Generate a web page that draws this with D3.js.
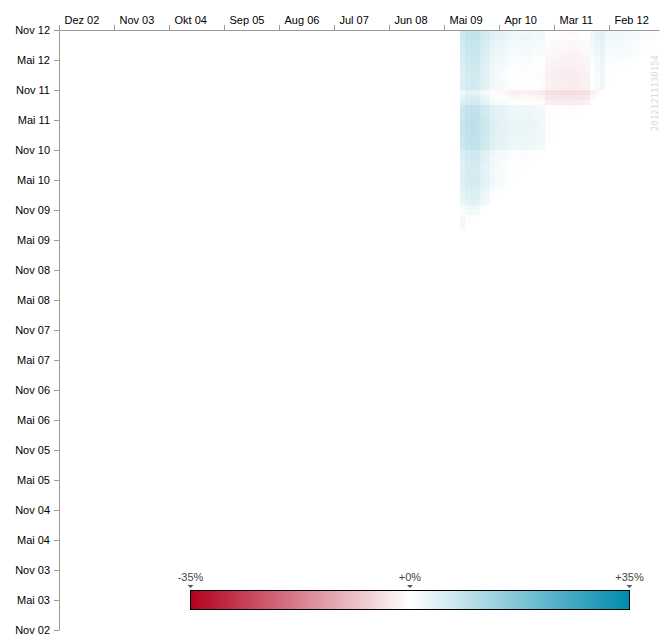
<!DOCTYPE html>
<html>
<head>
<meta charset="utf-8">
<script src="https://cdn.jsdelivr.net/npm/d3@7"></script>
<style>
  body { margin: 0; background: #fff; }
  svg { display: block; font-family: "Liberation Sans", Arial, sans-serif; }
</style>
</head>
<body>
<svg id="chart" width="670" height="640"></svg>
<script>
// month names used in the axis labels
const monthNames = ["Jan", "Feb", "Mär", "Apr", "Mai", "Jun", "Jul", "Aug", "Sep", "Okt", "Nov", "Dez"];

// tick labels
const xTickLabels = ["Dez 02", "Nov 03", "Okt 04", "Sep 05", "Aug 06", "Jul 07", "Jun 08", "Mai 09", "Apr 10", "Mar 11", "Feb 12"];
const yTickLabels = ["Nov 02", "Mai 03", "Nov 03", "Mai 04", "Nov 04", "Mai 05", "Nov 05", "Mai 06", "Nov 06",
  "Mai 07", "Nov 07", "Mai 08", "Nov 08", "Mai 09", "Nov 09", "Mai 10", "Nov 10", "Mai 11", "Nov 11", "Mai 12", "Nov 12"];

// first month with data (Aug 09) and the monthly index levels (start of each month, one extra at the end)
const firstDataMonth = "Aug 09";
const indexLevels = [
  100.0, 98.8, 98.4, 98.7, 100.3, 100.8, 102.6, 103.0, 103.3, 104.0,
  104.4, 104.6, 104.4, 104.3, 104.6, 104.8, 105.1, 106.8, 107.0, 107.2,
  107.3, 107.4, 107.4, 107.3, 107.0, 106.8, 104.5, 103.5, 102.3, 104.6,
  104.8, 104.5, 104.6, 105.0, 105.1, 105.4, 105.9, 106.1, 106.3, 107.0,
  106.7
];

// colour legend
const legendDomain = [-0.35, 0, 0.35];
const legendLabels = ["-35%", "+0%", "+35%"];
const watermark = "20121211130154";

function parseMonth(label) {
  const [name, yy] = label.split(" ");
  let m = monthNames.indexOf(name);
  if (m < 0) m = ["Jan", "Feb", "Mar"].indexOf(name);
  return (2000 + +yy) * 12 + m;
}

const svg = d3.select("#chart");

const x = d3.scaleLinear()
  .domain([parseMonth("Dez 02"), parseMonth("Dez 02") + 120])
  .range([59, 659]);

const y = d3.scaleLinear()
  .domain([parseMonth("Nov 02"), parseMonth("Nov 12")])
  .range([630, 30]);

const color = d3.scaleLinear()
  .domain(legendDomain)
  .range(["#b3001f", "#ffffff", "#008aad"])
  .clamp(true);

// heat cells: buy month on x, sell month on y
const m0 = parseMonth(firstDataMonth);
const n = indexLevels.length - 1;
const cells = [];
for (let k = 0; k < n; k++) {
  for (let s = k; s < n; s++) {
    cells.push({ buy: m0 + k, sell: m0 + s, value: indexLevels[s + 1] / indexLevels[k] - 1 });
  }
}

svg.append("g")
  .attr("shape-rendering", "crispEdges")
  .selectAll("rect")
  .data(cells)
  .enter()
  .append("rect")
  .attr("x", d => x(d.buy) + 1)
  .attr("y", d => y(d.sell))
  .attr("width", x(1) - x(0))
  .attr("height", y(0) - y(1))
  .attr("fill", d => color(d.value));

// axes
const xAxis = d3.axisTop(x)
  .tickValues(xTickLabels.map(parseMonth))
  .tickFormat((d, i) => xTickLabels[i])
  .tickSizeInner(5)
  .tickSizeOuter(0)
  .tickPadding(1);

const gx = svg.append("g")
  .attr("transform", "translate(0,30)")
  .call(xAxis);
gx.selectAll(".tick text")
  .attr("text-anchor", "start")
  .attr("x", 5);

const yAxis = d3.axisLeft(y)
  .tickValues(yTickLabels.map(parseMonth))
  .tickFormat((d, i) => yTickLabels[i])
  .tickSizeInner(5)
  .tickSizeOuter(0)
  .tickPadding(4);

const gy = svg.append("g")
  .attr("transform", "translate(59,0)")
  .call(yAxis);

svg.selectAll(".domain, .tick line").attr("stroke", "#999");
svg.selectAll(".tick text")
  .attr("fill", "#000")
  .style("font-size", "11px")
  .style("font-family", "'Liberation Sans', Arial, sans-serif");

// watermark
svg.append("text")
  .attr("transform", "translate(658,93) rotate(-90)")
  .attr("text-anchor", "middle")
  .style("font-family", "'DejaVu Sans Mono', monospace")
  .style("font-size", "9px")
  .attr("fill", "#dadada")
  .text(watermark);

// legend
const lx = d3.scaleLinear().domain([legendDomain[0], legendDomain[2]]).range([190, 629]);
const grad = svg.append("defs").append("linearGradient")
  .attr("id", "legend-grad");
d3.range(0, 1.0001, 0.05).forEach(t => {
  const v = legendDomain[0] + t * (legendDomain[2] - legendDomain[0]);
  grad.append("stop").attr("offset", t).attr("stop-color", color(v));
});

const legend = svg.append("g");
legend.append("rect")
  .attr("x", lx(legendDomain[0]) + 0.5)
  .attr("y", 590.5)
  .attr("width", lx(legendDomain[2]) - lx(legendDomain[0]))
  .attr("height", 19)
  .attr("fill", "url(#legend-grad)")
  .attr("stroke", "#000")
  .attr("stroke-width", 1);

legend.selectAll("path.marker")
  .data(legendDomain)
  .enter()
  .append("path")
  .attr("class", "marker")
  .attr("d", d => `M${lx(d) - 2.5},585 L${lx(d) + 3.5},585 L${lx(d) + 0.5},588 Z`)
  .attr("fill", "#555");

legend.selectAll("text")
  .data(legendDomain)
  .enter()
  .append("text")
  .attr("x", d => lx(d) + 0.5)
  .attr("y", 581)
  .attr("text-anchor", "middle")
  .attr("fill", "#444")
  .style("font-size", "11px")
  .text((d, i) => legendLabels[i]);
</script>
</body>
</html>
